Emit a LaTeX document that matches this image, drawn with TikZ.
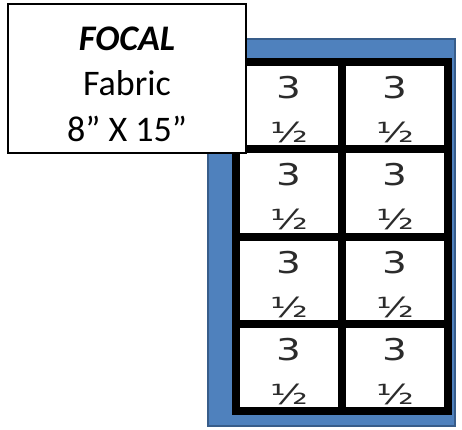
\documentclass[tikz,border=0pt]{standalone}
\usepackage{fontspec}
\setmainfont{Carlito}
\newfontfamily\cellfont{DejaVu Sans}
\definecolor{frameblue}{HTML}{4F81BD}
\definecolor{frameedge}{HTML}{385D8A}
\definecolor{digitgray}{HTML}{2B2B2B}
\newcommand{\wide}[1]{\scalebox{1.3}[1]{#1}}

\begin{document}
\begin{tikzpicture}[x=1pt, y=-1pt,
  cell/.style={draw=black, line width=8pt, fill=white, minimum width=106pt,
    minimum height=87.25pt, inner sep=0pt},
  digits/.style={align=center, text=digitgray, inner sep=0pt,
    font=\cellfont\fontsize{30}{44}\selectfont},
  tagbox/.style={draw=black, line width=1.5pt, fill=white, minimum width=238pt,
    minimum height=149pt, inner sep=0pt},
  tagtext/.style={align=center, inner sep=0pt, font=\fontsize{36}{45.5}\selectfont}]
  \useasboundingbox (0,0) rectangle (462,429);
  % blue frame behind the grid
  \draw[frameedge, line width=2pt, fill=frameblue] (208,39) rectangle (455,426);
  % 4 x 2 cells
  \foreach \r in {1,...,4}
    \foreach \c in {1,2} {
      \node[cell] (cell-\r-\c) at ({236+106*(\c-0.5)}, {62+87.25*(\r-0.5)}) {};
      \node[digits] (num-\r-\c) at ([yshift=-4pt]cell-\r-\c.center)
        {\wide{3}\\\scalebox{1.3}[0.92]{½}};
    }
  % fabric label
  \node[tagbox] (focal) at (127,78.5) {};
  \node[tagtext] (focal-text) at ([yshift=-5.5pt]focal.center)
    {\textbf{\textit{FOCAL}}\\Fabric\\8” X 15”};
\end{tikzpicture}
\end{document}
